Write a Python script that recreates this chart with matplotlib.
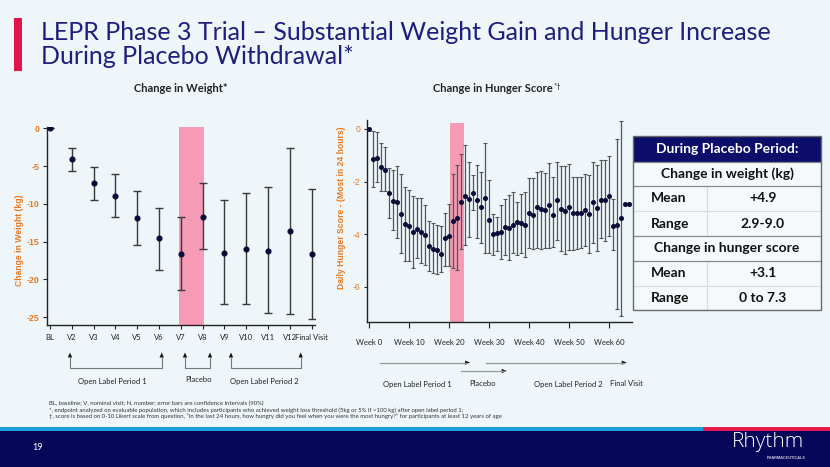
import matplotlib
matplotlib.use("Agg")
import matplotlib.pyplot as plt
from matplotlib.patches import Rectangle
from matplotlib.lines import Line2D

W, H = 830, 467

# ---------------- data ----------------
weight_labels = ["BL", "V2", "V3", "V4", "V5", "V6", "V7", "V8", "V9", "V10", "V11", "V12", "Final Visit"]
weight_mean = [0, -4.1, -7.2, -9.0, -11.9, -14.5, -16.7, -11.7, -16.5, -16.0, -16.2, -13.6, -16.7]
weight_lo = [0, -5.6, -9.5, -11.8, -15.45, -18.7, -21.45, -16.0, -23.3, -23.3, -24.5, -24.6, -25.3]
weight_hi = [0, -2.56, -5.07, -6.1, -8.35, -10.5, -11.75, -7.2, -9.5, -8.56, -7.8, -2.65, -7.98]
weight_ticks = [0, -5, -10, -15, -20, -25]

hunger_weeks = list(range(0, 66))
hunger_mean = [0, -1.14, -1.10, -1.43, -1.56, -2.44, -2.73, -2.78, -3.22, -3.61,
               -3.68, -3.92, -3.80, -3.90, -4.05, -4.47, -4.57, -4.62, -4.76, -4.16,
               -4.06, -3.51, -3.38, -2.77, -2.54, -2.67, -2.44, -2.72, -2.97, -2.63,
               -3.48, -3.99, -3.96, -3.91, -3.71, -3.75, -3.66, -3.52, -3.58, -3.66,
               -3.20, -3.27, -2.97, -3.04, -3.10, -2.91, -3.27, -2.70, -3.05, -3.11,
               -2.97, -3.20, -3.20, -3.20, -3.10, -3.23, -2.78, -3.01, -2.72, -2.72,
               -2.54, -3.68, -3.65, -3.39, -2.86, -2.86]
hunger_hi = [0, -0.06, -0.10, -0.52, -0.70, -1.47, -1.58, -1.41, -1.72, -2.19,
             -2.32, -2.54, -2.61, -2.63, -2.89, -3.49, -3.58, -3.65, -3.68, -3.18,
             -2.85, -1.71, -1.37, -0.94, -0.61, -1.27, -1.77, -1.37, -1.62, -0.52,
             -1.96, -3.24, -3.35, -2.89, -2.67, -2.51, -2.41, -2.78, -2.48, -2.38,
             -1.85, -1.85, -1.65, -1.59, -1.68, -1.30, -1.81, -1.24, -1.41, -1.41,
             -1.34, -1.84, -1.84, -1.84, -1.71, -1.75, -1.27, -1.37, -1.18, -1.20,
             -1.01, -2.67, -0.39, 0.30, -2.86, -2.86]
hunger_lo = [0, -2.22, -2.00, -2.35, -2.35, -3.39, -3.86, -4.13, -4.72, -5.01,
             -5.01, -5.27, -4.90, -5.10, -5.19, -5.42, -5.49, -5.52, -5.43, -5.23,
             -5.23, -5.27, -5.35, -4.56, -4.42, -4.11, -3.08, -4.15, -4.32, -4.72,
             -4.72, -4.78, -4.66, -4.94, -4.80, -5.00, -4.72, -4.78, -4.72, -4.86,
             -4.51, -4.57, -4.54, -4.57, -4.53, -4.51, -4.49, -4.22, -4.66, -4.75,
             -4.59, -4.59, -4.56, -4.53, -4.47, -4.72, -4.34, -4.66, -4.13, -4.28,
             -4.09, -4.59, -6.84, -7.13, -2.86, -2.86]
hunger_ticks = [0, -2, -4, -6]
week_ticks = [0, 10, 20, 30, 40, 50, 60]
week_labels = ["Week 0", "Week 10", "Week 20", "Week 30", "Week 40", "Week 50", "Week 60"]

table_rows = [("Mean", "+4.9"), ("Range", "2.9-9.0"), ("Mean", "+3.1"), ("Range", "0 to 7.3")]

footnotes = [
    "BL, baseline; V, nominal visit; N, number; error bars are confidence intervals (90%)",
    "*, endpoint analyzed on evaluable population, which includes participants who achieved weight loss threshold (5kg or 5% if <100 kg) after open label period 1;",
    "\u2020, score is based on 0-10 Likert scale from question, \u201cIn the last 24 hours, how hungry did you feel when you were the most hungry?\u201d for participants at least 12 years of age",
]

# ---------------- styling ----------------
BG = "#eef6fa"
TITLE_C = "#1e1e7c"
ORANGE = "#e8781e"
PINK = "#f59bb6"
DOT = "#0b0b38"
ERR = "#3a3a3a"
CAL = ["Lato", "DejaVu Sans"]
ARI = ["Liberation Sans", "DejaVu Sans"]

fig = plt.figure(figsize=(W / 100, H / 100), dpi=100, facecolor=BG)


def fx(x):
    return x / W


def fy(y):
    return 1 - y / H


def axes_px(left, top, right, bottom):
    return fig.add_axes([fx(left), fy(bottom), (right - left) / W, (bottom - top) / H])


def style_axes(ax):
    ax.set_facecolor("none")
    for s in ("top", "right"):
        ax.spines[s].set_visible(False)
    for s in ("left", "bottom"):
        ax.spines[s].set_color("#222222")
        ax.spines[s].set_linewidth(1.0)


# ---------------- title ----------------
fig.patches.append(Rectangle((fx(14), fy(71)), 8 / W, 53 / H, transform=fig.transFigure,
                             facecolor="#e2154d", edgecolor="none"))
fig.text(fx(41), fy(40), "LEPR Phase 3 Trial \u2013 Substantial Weight Gain and Hunger Increase",
         fontsize=18, family=CAL, weight="normal", color=TITLE_C, va="baseline")
fig.text(fx(41), fy(64), "During Placebo Withdrawal*",
         fontsize=18, family=CAL, weight="normal", color=TITLE_C, va="baseline")

fig.text(fx(181), fy(89), "Change in Weight*", fontsize=8, weight="bold", family=CAL,
         ha="center", va="center", color="#222222")
fig.text(fx(493), fy(89), "Change in Hunger Score", fontsize=8, weight="bold", family=CAL,
         ha="center", va="center", color="#222222")
fig.text(fx(554), fy(86), "*\u2020", fontsize=5.5, family=CAL, ha="left", va="center", color="#222222")

# ---------------- weight chart ----------------
ax1 = axes_px(46.7, 126.5, 315, 325)
style_axes(ax1)
xs = list(range(len(weight_labels)))
ax1.axvspan(5.94, 7.05, ymin=0, ymax=1, color=PINK, zorder=0, lw=0)
yerr1 = [[m - l for m, l in zip(weight_mean, weight_lo)], [h - m for m, h in zip(weight_mean, weight_hi)]]
ax1.errorbar(xs, weight_mean, yerr=yerr1, fmt="o", color=DOT, ms=3.4, ecolor=ERR,
             elinewidth=1.0, capsize=2.6, capthick=1.0, zorder=3)
ax1.set_xlim(-0.15, 12.16)
ax1.set_ylim(-26.05, 0.25)
ax1.set_xticks(xs)
ax1.set_xticklabels(weight_labels, fontsize=5.5, family=CAL, color="#222222")
ax1.set_yticks(weight_ticks)
ax1.set_yticklabels([str(t) for t in weight_ticks], fontsize=6.3, family=ARI, weight="bold", color=ORANGE)
ax1.tick_params(axis="x", length=3, width=0.8, pad=3.5, color="#222222")
ax1.tick_params(axis="y", length=3, width=0.8, pad=2, color="#222222")
fig.text(fx(20), fy(240), "Change in Weight (kg)", rotation=90, fontsize=6.2, family=ARI,
         weight="bold", color=ORANGE, ha="center", va="center")


def bracket(x1, x2, y_top=353.5, y_bot=367.7):
    fig.add_artist(Line2D([fx(x1), fx(x1), fx(x2), fx(x2)], [fy(y_top + 3), fy(y_bot), fy(y_bot), fy(y_top + 3)],
                          transform=fig.transFigure, color="#777777", lw=0.8))
    for x in (x1, x2):
        fig.add_artist(plt.Polygon([[fx(x - 2.2), fy(y_top + 4)], [fx(x + 2.2), fy(y_top + 4)], [fx(x), fy(y_top - 1)]],
                                   closed=True, transform=fig.transFigure, color="#111111", lw=0))


bracket(70, 161.7)
bracket(185, 210)
bracket(231, 300.7)
for x, y, t in [(112.7, 381.7, "Open Label Period 1"), (198.3, 380, "Placebo"), (264, 381.7, "Open Label Period 2")]:
    fig.text(fx(x), fy(y), t, fontsize=5.5, family=CAL, ha="center", va="center", color="#222222")

# ---------------- hunger chart ----------------
ax2 = axes_px(366.7, 120, 632.2, 321.7)
style_axes(ax2)
ax2.axvspan(20.25, 23.67, ymin=0, ymax=(0.24 + 7.33) / (0.34 + 7.33), color=PINK, zorder=0, lw=0)
yerr2 = [[m - l for m, l in zip(hunger_mean, hunger_lo)], [h - m for m, h in zip(hunger_mean, hunger_hi)]]
ax2.errorbar(hunger_weeks, hunger_mean, yerr=yerr2, fmt="o", color=DOT, ms=2.6, ecolor="#555555",
             elinewidth=0.9, capsize=1.6, capthick=0.8, zorder=3)
ax2.set_xlim(-0.58, 65.8)
ax2.set_ylim(-7.33, 0.34)
ax2.set_xticks(week_ticks)
ax2.set_xticklabels(week_labels, fontsize=5.5, family=CAL, color="#222222")
ax2.set_yticks(hunger_ticks)
ax2.set_yticklabels([str(t) for t in hunger_ticks], fontsize=6.2, family=ARI, color=ORANGE)
ax2.tick_params(axis="x", length=4, width=0.8, pad=8.5, color="#222222")
ax2.tick_params(axis="y", length=2.5, width=0.8, pad=2, color="#222222")
fig.text(fx(341.7), fy(208), "Daily Hunger Score - (Most in 24 hours)", rotation=90, fontsize=6.2,
         family=ARI, weight="bold", color=ORANGE, ha="center", va="center")


def harrow(x1, x2, y):
    fig.add_artist(Line2D([fx(x1), fx(x2 - 3)], [fy(y), fy(y)], transform=fig.transFigure,
                          color="#9a9a9a", lw=0.9))
    fig.add_artist(plt.Polygon([[fx(x2 - 5), fy(y - 2.2)], [fx(x2 - 5), fy(y + 2.2)], [fx(x2), fy(y)]],
                               closed=True, transform=fig.transFigure, color="#111111", lw=0))


harrow(380, 470, 362.7)
harrow(485.7, 626.7, 362.7)
harrow(460.7, 506.7, 371)
for x, t in [(417.3, "Open Label Period 1"), (482.3, "Placebo"), (568.3, "Open Label Period 2"), (626, "Final Visit")]:
    fig.text(fx(x), fy(384), t, fontsize=5.5, family=CAL, ha="center", va="center", color="#222222")

# ---------------- table ----------------
tl, tr, tt, tb = 633.3, 820.7, 136, 310
fig.patches.append(Rectangle((fx(tl), fy(tb)), (tr - tl) / W, (tb - tt) / H, transform=fig.transFigure,
                             facecolor="#f5f9fb", edgecolor="none", zorder=5))
fig.patches.append(Rectangle((fx(tl), fy(161.7)), (tr - tl) / W, (161.7 - tt) / H, transform=fig.transFigure,
                             facecolor="#0d0d6a", edgecolor="none", zorder=6))
for y in (211, 285.5):
    fig.add_artist(Line2D([fx(tl), fx(tr)], [fy(y), fy(y)], transform=fig.transFigure, color="#d5dde2", lw=0.8, zorder=6))
for (y1, y2) in ((186, 236), (261, 310)):
    fig.add_artist(Line2D([fx(706.7), fx(706.7)], [fy(y1), fy(y2)], transform=fig.transFigure, color="#d5dde2", lw=0.8, zorder=6))
for y in (161.7, 186, 236, 261):
    fig.add_artist(Line2D([fx(tl), fx(tr)], [fy(y), fy(y)], transform=fig.transFigure, color="#8a8a8a", lw=0.9, zorder=7))
fig.patches.append(Rectangle((fx(tl), fy(tb)), (tr - tl) / W, (tb - tt) / H, transform=fig.transFigure,
                             facecolor="none", edgecolor="#6a6a6a", lw=1.0, zorder=8))
tc = (tl + tr) / 2
TFS = 10
fig.text(fx(tc), fy(149), "During Placebo Period:", fontsize=TFS, weight="bold", family=CAL,
         color="white", ha="center", va="center", zorder=9)
fig.text(fx(tc), fy(174), "Change in weight (kg)", fontsize=TFS, weight="bold", family=CAL,
         color="#111111", ha="center", va="center", zorder=9)
fig.text(fx(tc), fy(248.5), "Change in hunger score", fontsize=TFS, weight="bold", family=CAL,
         color="#111111", ha="center", va="center", zorder=9)
for (lab, val), y in zip(table_rows, (198.5, 223.5, 273, 297.5)):
    fig.text(fx(651), fy(y), lab, fontsize=TFS, weight="bold", family=CAL, color="#111111",
             ha="left", va="center", zorder=9)
    fig.text(fx(762.7), fy(y), val, fontsize=TFS, weight="bold", family=CAL, color="#111111",
             ha="center", va="center", zorder=9)

# ---------------- footnotes ----------------
for i, t in enumerate(footnotes):
    fig.text(fx(49), fy(403.3 + 6.7 * i), t, fontsize=4.35, family=CAL, color="#333333", ha="left", va="center")

# ---------------- footer ----------------
fig.patches.append(Rectangle((0, 0), 1, fy(430), transform=fig.transFigure, facecolor="#07075a", edgecolor="none"))
fig.patches.append(Rectangle((0, fy(430.7)), fx(703), 3.4 / H, transform=fig.transFigure, facecolor="#1ca0dc", edgecolor="none"))
fig.patches.append(Rectangle((fx(703), fy(430.7)), 1 - fx(703), 3.4 / H, transform=fig.transFigure, facecolor="#e8194f", edgecolor="none"))
fig.text(fx(37.5), fy(448), "19", fontsize=6.5, family=CAL, color="white", ha="center", va="center")
fig.text(fx(767.5), fy(442), "Rhythm", fontsize=15, family=["Open Sans", "DejaVu Sans"], weight="light",
         color="white", ha="center", va="center")
fig.text(fx(786), fy(458), "PHARMACEUTICALS", fontsize=2.8, family=ARI, weight="bold",
         color="#c8c8e0", ha="center", va="center")

fig.savefig("out.png", dpi=100, facecolor=BG)
